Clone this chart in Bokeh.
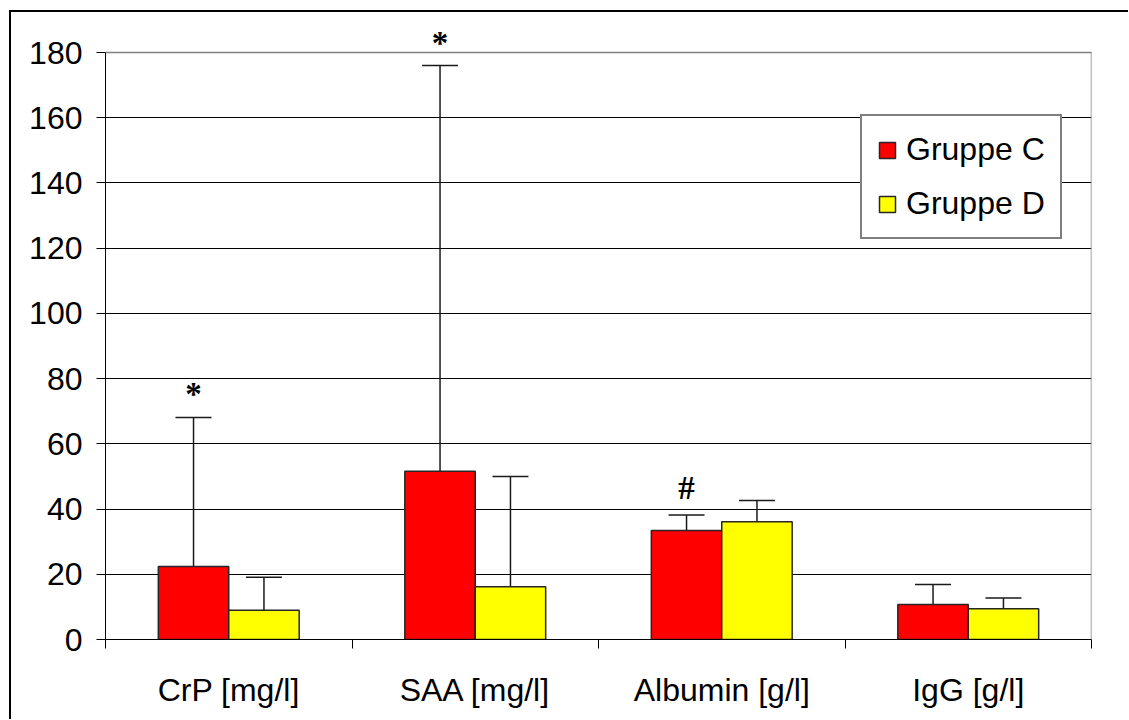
from bokeh.plotting import figure
from bokeh.models import (ColumnDataSource, FixedTicker, Whisker, TeeHead, LabelSet, Range1d)
from bokeh.embed import file_html
from bokeh.resources import INLINE

categories = ["CrP [mg/l]", "SAA [mg/l]", "Albumin [g/l]", "IgG [g/l]"]
groups = ["Gruppe C", "Gruppe D"]
mean_c = [22.4, 51.6, 33.4, 10.7]
sd_c = [45.7, 124.4, 4.8, 6.2]
mean_d = [9.0, 16.2, 36.1, 9.4]
sd_d = [10.1, 33.8, 6.5, 3.3]
sig_c = ["*", "*", "#", ""]
y_ticks = [0, 20, 40, 60, 80, 100, 120, 140, 160, 180]

FONT = "Liberation Sans"
n = len(categories)
bar_w = 1 / 3.5
y_max = y_ticks[-1]
y_top = y_max + 28 / 3.261   # headroom above the plot area for the marks

p = figure(output_backend="svg", toolbar_location=None,
           frame_width=986, frame_height=615,
           min_border_left=94, min_border_right=37, min_border_top=12, min_border_bottom=80,
           x_range=Range1d(0, n), y_range=Range1d(0, y_top))
p.styles = {"margin-left": "9px", "margin-top": "10px",
            "border-top": "2px solid black", "border-left": "2px solid black"}
p.background_fill_color = "white"
p.border_fill_color = "white"
p.outline_line_color = None

# y axis
p.yaxis.ticker = FixedTicker(ticks=y_ticks)
p.yaxis.bounds = (0, y_max)
p.yaxis.axis_line_color = "black"
p.yaxis.major_tick_line_color = "black"
p.yaxis.major_tick_out = 9
p.yaxis.major_tick_in = 0
p.yaxis.minor_tick_line_color = None
p.yaxis.major_label_standoff = 14
p.yaxis.major_label_text_font = FONT
p.yaxis.major_label_text_font_size = "32px"
p.yaxis.major_label_text_color = "black"

# x axis: labels centred, ticks at category boundaries
centers = [i + 0.5 for i in range(n)]
p.xaxis.ticker = FixedTicker(ticks=centers, minor_ticks=list(range(n + 1)))
p.xaxis.major_label_overrides = {c: lab for c, lab in zip(centers, categories)}
p.xaxis.major_tick_line_color = None
p.xaxis.major_tick_out = 0
p.xaxis.major_tick_in = 0
p.xaxis.minor_tick_line_color = "black"
p.xaxis.minor_tick_out = 9
p.xaxis.minor_tick_in = 0
p.xaxis.axis_line_color = "black"
p.xaxis.major_label_standoff = 23
p.xaxis.major_label_text_font = FONT
p.xaxis.major_label_text_font_size = "32px"
p.xaxis.major_label_text_color = "black"

p.xgrid.grid_line_color = None
p.ygrid.ticker = FixedTicker(ticks=y_ticks)
p.ygrid.grid_line_color = "black"
p.ygrid.grid_line_width = 1

# plot-area border (top and right), gray
p.segment(x0=[0, n], y0=[y_max, 0], x1=[n, n], y1=[y_max, y_max],
          line_color="#808080", line_width=1.5)

src_c = ColumnDataSource(dict(x=[c - bar_w / 2 for c in centers], top=mean_c,
                              hi=[m + s for m, s in zip(mean_c, sd_c)]))
src_d = ColumnDataSource(dict(x=[c + bar_w / 2 for c in centers], top=mean_d,
                              hi=[m + s for m, s in zip(mean_d, sd_d)]))

p.vbar(x="x", top="top", width=bar_w, source=src_c, fill_color="#FF0000",
       line_color="#262626", line_width=1.5, legend_label=groups[0])
p.vbar(x="x", top="top", width=bar_w, source=src_d, fill_color="#FFFF00",
       line_color="#262626", line_width=1.5, legend_label=groups[1])

for src in (src_c, src_d):
    w = Whisker(source=src, base="x", lower="top", upper="hi", dimension="height",
                line_color="#1a1a1a", line_width=1.5,
                upper_head=TeeHead(size=36, line_color="#1a1a1a", line_width=1.5),
                lower_head=None)
    p.add_layout(w)

# significance marks
offs = {"*": 12, "#": 16}
lx, ly, lt, lo = [], [], [], []
for c, m, s, mk in zip(centers, mean_c, sd_c, sig_c):
    if mk:
        lx.append(c - bar_w / 2)
        ly.append(m + s)
        lt.append(mk)
        lo.append(offs[mk])
lab_src = ColumnDataSource(dict(x=lx, y=ly, text=lt, dy=lo))
p.add_layout(LabelSet(x="x", y="y", text="text", y_offset="dy", source=lab_src,
                      text_align="center", text_baseline="alphabetic",
                      text_font=FONT, text_font_style="bold", text_font_size="33px",
                      text_color="black"))

leg = p.legend[0]
leg.location = (755, 400)
leg.border_line_color = "black"
leg.border_line_width = 2
leg.background_fill_color = "white"
leg.background_fill_alpha = 1
leg.padding = 15
leg.margin = 0
leg.spacing = 17
leg.glyph_width = 20
leg.glyph_height = 20
leg.label_standoff = 9
leg.label_text_font = FONT
leg.label_text_font_size = "32px"
leg.label_text_color = "black"

open("out.html", "w").write(file_html(p, INLINE))
